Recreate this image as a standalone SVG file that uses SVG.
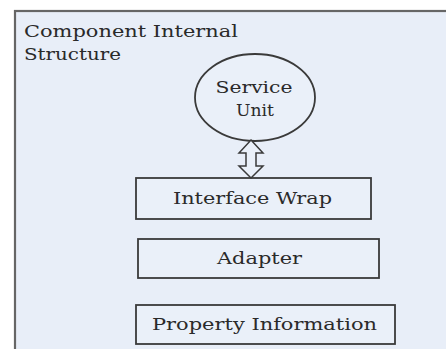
<svg xmlns="http://www.w3.org/2000/svg" width="446" height="349" viewBox="0 0 446 349">
  <defs>
    <style>
      text { font-family: "DejaVu Serif", "Liberation Serif", serif; font-size: 17px; fill: #2a2a2a; }
      .box { fill: #eaf0f9; stroke: #3a3a3a; stroke-width: 1.8; }
      .conn { fill: #eaf0f9; stroke: #3a3a3a; stroke-width: 1.5; stroke-linejoin: miter; }
    </style>
  </defs>
  <rect x="0" y="0" width="446" height="349" fill="#ffffff"/>
  <g id="container">
    <rect x="15" y="11" width="440" height="350" fill="#e8eef8" stroke="#666" stroke-width="2.2"/>
    <text x="24" y="37" textLength="214" lengthAdjust="spacingAndGlyphs">Component Internal</text>
    <text x="24" y="60" textLength="97" lengthAdjust="spacingAndGlyphs">Structure</text>
  </g>
  <g id="service-unit">
    <ellipse class="box" cx="255" cy="97.5" rx="60" ry="43.5"/>
    <text x="254" y="93" text-anchor="middle" textLength="77" lengthAdjust="spacingAndGlyphs">Service</text>
    <text x="255" y="116" text-anchor="middle" textLength="38" lengthAdjust="spacingAndGlyphs">Unit</text>
  </g>
  <g id="interface-wrap">
    <rect class="box" x="136" y="178" width="235" height="41"/>
    <text x="252.5" y="204" text-anchor="middle" textLength="159" lengthAdjust="spacingAndGlyphs">Interface Wrap</text>
  </g>
  <g id="adapter">
    <rect class="box" x="138" y="239" width="241" height="39"/>
    <text x="259.5" y="264" text-anchor="middle" textLength="85" lengthAdjust="spacingAndGlyphs">Adapter</text>
  </g>
  <g id="property-information">
    <rect class="box" x="136" y="305" width="259" height="39"/>
    <text x="264.5" y="330" text-anchor="middle" textLength="225" lengthAdjust="spacingAndGlyphs">Property Information</text>
  </g>
  <g id="connectors">
    <polygon class="conn" points="251,140 263,153 256,153 256,166 263,166 251,178 239,166 246,166 246,153 239,153"/>
  </g>
</svg>
